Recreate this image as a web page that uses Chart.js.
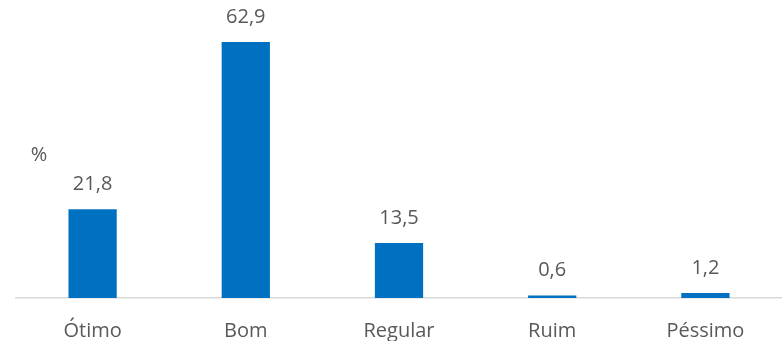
<!DOCTYPE html>
<html lang="pt">

<head>
    <meta charset="UTF-8">
    <title>Avaliação</title>
    <script src="https://cdn.jsdelivr.net/npm/chart.js"></script>
    <style>
        body { margin: 0; background: #ffffff; }
    </style>
</head>

<body>
    <div style="width: 782px; height: 341px;">
        <canvas id="myChart" width="782" height="341"></canvas>
    </div>
</body>
<script>
    const categories = ['Ótimo', 'Bom', 'Regular', 'Ruim', 'Péssimo'];
    const values = [21.8, 62.9, 13.5, 0.6, 1.2];
    const unitLabel = '%';

    const textColor = '#595959';
    const fontFamily = "'Open Sans', sans-serif";

    // value labels above the bars, plus the "%" note on the left
    const labelPlugin = {
        id: 'valueLabels',
        afterDatasetsDraw(chart) {
            const ctx = chart.ctx;
            ctx.save();
            ctx.fillStyle = textColor;
            ctx.font = '20px ' + fontFamily;
            ctx.textAlign = 'center';
            ctx.textBaseline = 'middle';
            chart.getDatasetMeta(0).data.forEach((bar, i) => {
                ctx.fillText(values[i].toFixed(1).replace('.', ','), bar.x, bar.y - 25);
            });
            ctx.fillText(unitLabel, 39, 155);
            ctx.restore();
        }
    };

    new Chart(document.getElementById('myChart').getContext('2d'), {
        type: 'bar',
        data: {
            labels: categories,
            datasets: [{
                data: values,
                backgroundColor: '#0070C0',
                categoryPercentage: 1,
                barPercentage: 0.315
            }]
        },
        options: {
            responsive: false,
            animation: false,
            layout: {
                padding: { left: 16, right: 0, top: 13, bottom: -23 }
            },
            scales: {
                x: {
                    grid: { display: false, drawTicks: false },
                    border: { display: true, color: '#D9D9D9', width: 1.5 },
                    ticks: {
                        color: textColor,
                        font: { family: fontFamily, size: 20 },
                        padding: 21
                    }
                },
                y: {
                    display: false,
                    min: 0,
                    max: 70
                }
            },
            plugins: {
                legend: { display: false },
                tooltip: { enabled: false }
            }
        },
        plugins: [labelPlugin]
    });
</script>

</html>
